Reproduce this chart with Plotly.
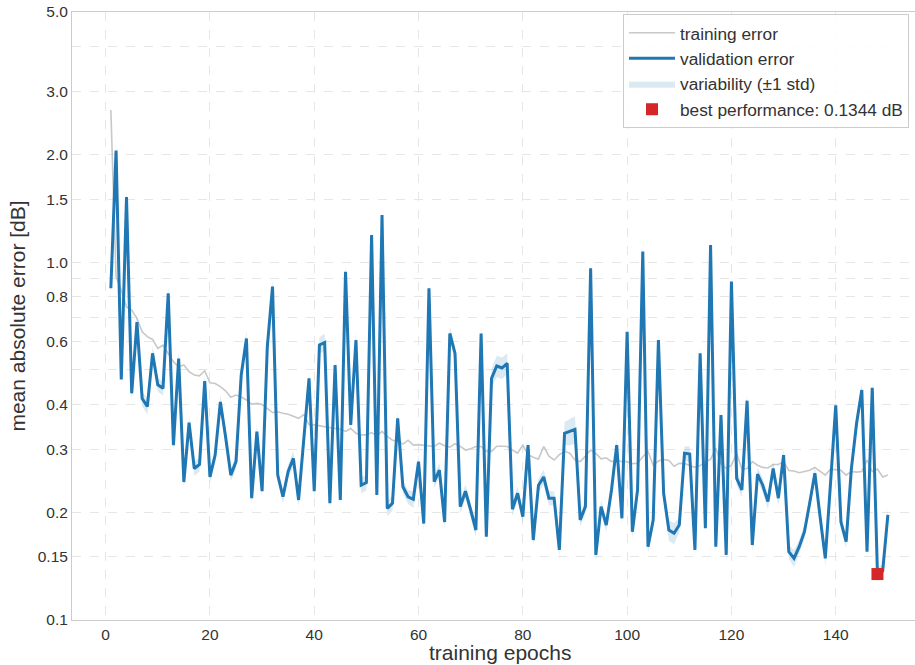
import math
import plotly.graph_objects as go

epochs = list(range(1, 151))

validation_error = [
    0.845, 2.05, 0.47, 1.52, 0.43, 0.68, 0.416, 0.395, 0.556, 0.454,
    0.444, 0.818, 0.308, 0.538, 0.243, 0.356, 0.265, 0.272, 0.465, 0.251,
    0.289, 0.407, 0.325, 0.254, 0.277, 0.484, 0.612, 0.219, 0.336, 0.229,
    0.58, 0.854, 0.254, 0.221, 0.26, 0.283, 0.2165, 0.312, 0.4735, 0.229,
    0.587, 0.596, 0.212, 0.516, 0.2165, 0.94, 0.351, 0.606, 0.238, 0.242,
    1.19, 0.2235, 1.354, 0.205, 0.212, 0.366, 0.2357, 0.221, 0.2175, 0.277,
    0.186, 0.845, 0.2434, 0.2624, 0.1878, 0.632, 0.556, 0.2074, 0.229, 0.203,
    0.1784, 0.632, 0.171, 0.4735, 0.5126, 0.506, 0.5216, 0.2039, 0.226, 0.1944,
    0.308, 0.1673, 0.238, 0.251, 0.219, 0.219, 0.157, 0.3326, 0.336, 0.341,
    0.1903, 0.2074, 0.961, 0.152, 0.2074, 0.1842, 0.2308, 0.308, 0.1924, 0.639,
    0.1765, 0.2308, 1.07, 0.1603, 0.1903, 0.606, 0.226, 0.1784, 0.1747, 0.1842,
    0.2923, 0.291, 0.157, 0.556, 0.1804, 1.116, 0.1603, 0.374, 0.152, 0.882,
    0.2488, 0.2308, 0.41, 0.162, 0.2558, 0.238, 0.2142, 0.265, 0.219, 0.289,
    0.1552, 0.1487, 0.1603, 0.1765, 0.212, 0.257, 0.1944, 0.1487, 0.241, 0.398,
    0.1878, 0.1655, 0.265, 0.3546, 0.439, 0.1552, 0.4457, 0.1344, 0.137, 0.1966,
]

validation_std = [
    0.05, 0.12, 0.025, 0.08, 0.02, 0.03, 0.02, 0.02, 0.025, 0.02,
    0.02, 0.04, 0.012, 0.025, 0.01, 0.015, 0.012, 0.012, 0.02, 0.01,
    0.012, 0.018, 0.014, 0.01, 0.012, 0.02, 0.03, 0.009, 0.015, 0.01,
    0.025, 0.04, 0.01, 0.009, 0.011, 0.014, 0.009, 0.013, 0.02, 0.01,
    0.03, 0.035, 0.009, 0.025, 0.009, 0.045, 0.015, 0.03, 0.012, 0.012,
    0.06, 0.01, 0.07, 0.01, 0.01, 0.016, 0.01, 0.01, 0.012, 0.012,
    0.008, 0.04, 0.01, 0.012, 0.008, 0.03, 0.025, 0.009, 0.01, 0.009,
    0.008, 0.03, 0.008, 0.03, 0.035, 0.035, 0.035, 0.009, 0.01, 0.008,
    0.013, 0.007, 0.01, 0.012, 0.01, 0.01, 0.007, 0.025, 0.028, 0.03,
    0.008, 0.009, 0.045, 0.007, 0.009, 0.008, 0.01, 0.013, 0.008, 0.03,
    0.008, 0.01, 0.05, 0.007, 0.008, 0.03, 0.01, 0.012, 0.012, 0.008,
    0.013, 0.015, 0.007, 0.025, 0.008, 0.05, 0.007, 0.016, 0.007, 0.04,
    0.011, 0.011, 0.018, 0.007, 0.011, 0.011, 0.01, 0.012, 0.01, 0.013,
    0.007, 0.008, 0.007, 0.008, 0.009, 0.011, 0.008, 0.007, 0.01, 0.017,
    0.008, 0.007, 0.011, 0.015, 0.019, 0.007, 0.019, 0.006, 0.006, 0.009,
]

training_error = [
    2.66, 0.91, 0.835, 0.75, 0.735, 0.697, 0.639, 0.619, 0.608, 0.574,
    0.586, 0.556, 0.527, 0.51, 0.516, 0.494, 0.484, 0.481, 0.497, 0.46,
    0.458, 0.449, 0.437, 0.419, 0.425, 0.42, 0.412, 0.401, 0.403, 0.40,
    0.39, 0.38, 0.382, 0.378, 0.376, 0.371, 0.366, 0.375, 0.352, 0.351,
    0.349, 0.347, 0.346, 0.343, 0.341, 0.3365, 0.343, 0.3325, 0.329, 0.329,
    0.334, 0.327, 0.3365, 0.326, 0.318, 0.316, 0.31, 0.318, 0.308, 0.309,
    0.308, 0.308, 0.3055, 0.312, 0.307, 0.304, 0.311, 0.3055, 0.2985, 0.301,
    0.3055, 0.3055, 0.296, 0.296, 0.306, 0.306, 0.3055, 0.2985, 0.2924, 0.308,
    0.2896, 0.285, 0.2815, 0.3055, 0.287, 0.28, 0.2896, 0.296, 0.2924, 0.28,
    0.277, 0.287, 0.2985, 0.292, 0.282, 0.284, 0.277, 0.279, 0.277, 0.277,
    0.2735, 0.274, 0.286, 0.296, 0.2707, 0.278, 0.281, 0.279, 0.269, 0.274,
    0.2735, 0.2707, 0.267, 0.27, 0.277, 0.281, 0.302, 0.2735, 0.265, 0.2707,
    0.2923, 0.264, 0.265, 0.277, 0.2707, 0.267, 0.266, 0.272, 0.272, 0.277,
    0.2617, 0.2607, 0.258, 0.26, 0.262, 0.267, 0.26, 0.254, 0.264, 0.263,
    0.262, 0.254, 0.26, 0.259, 0.26, 0.28, 0.26, 0.264, 0.251, 0.254,
]

best_epoch = 148
best_value = 0.1344

y_tick_vals = [0.1, 0.15, 0.2, 0.3, 0.4, 0.6, 0.8, 1.0, 1.5, 2.0, 3.0, 5.0]
y_tick_text = ["0.1", "0.15", "0.2", "0.3", "0.4", "0.6", "0.8", "1.0", "1.5", "2.0", "3.0", "5.0"]
y_minor_vals = [0.5, 0.7, 0.9, 4.0]
x_tick_vals = [0, 20, 40, 60, 80, 100, 120, 140]

upper = [v + s for v, s in zip(validation_error, validation_std)]
lower = [v - s for v, s in zip(validation_error, validation_std)]

FONT = "Liberation Sans, Arial, sans-serif"
TXT = "#333333"
GRID = "#e6e6e6"

fig = go.Figure()

fig.add_trace(go.Scatter(
    x=epochs, y=training_error, mode="lines", name="training error",
    line=dict(color="#c8c8c8", width=1.6), legendrank=1,
))
fig.add_trace(go.Scatter(
    x=epochs + epochs[::-1], y=upper + lower[::-1], mode="lines",
    fill="toself", fillcolor="rgba(31,119,180,0.16)",
    line=dict(width=0, color="rgba(31,119,180,0.16)"),
    name="variability (±1 std)", legendrank=3,
))
fig.add_trace(go.Scatter(
    x=epochs, y=validation_error, mode="lines", name="validation error",
    line=dict(color="#1f77b4", width=3), legendrank=2,
))
fig.add_trace(go.Scatter(
    x=[best_epoch], y=[best_value], mode="markers",
    name=f"best performance: {best_value:.4f} dB",
    marker=dict(symbol="square", size=12, color="#d62728"), legendrank=4,
))

fig.update_layout(
    width=915, height=665,
    margin=dict(l=72, r=0, t=12, b=45),
    paper_bgcolor="white", plot_bgcolor="white",
    font=dict(family=FONT, size=15.5, color=TXT),
    showlegend=True,
    legend=dict(
        x=0.6536, y=0.9967, xanchor="left", yanchor="top",
        bgcolor="rgba(255,255,255,0.85)", bordercolor="#cccccc", borderwidth=1,
        font=dict(family=FONT, size=17.3, color=TXT),
        tracegroupgap=0, itemwidth=46,
    ),
    xaxis=dict(
        range=[-6.45, 155.2], tickvals=x_tick_vals,
        showgrid=True, gridcolor=GRID, griddash="dash", gridwidth=1,
        showline=True, linecolor="#cccccc", linewidth=1, mirror=True,
        zeroline=False, ticks="",
        tickfont=dict(size=15.5, color=TXT),
    ),
    yaxis=dict(
        type="log", range=[-1, math.log10(5)],
        tickvals=y_tick_vals, ticktext=y_tick_text,
        showgrid=True, gridcolor=GRID, griddash="dash", gridwidth=1,
        minor=dict(tickvals=y_minor_vals, showgrid=True, gridcolor=GRID, griddash="dash", ticks=""),
        showline=True, linecolor="#cccccc", linewidth=1, mirror=True,
        zeroline=False, ticks="",
        tickfont=dict(size=15.5, color=TXT),
        title=dict(text="mean absolute error [dB]", font=dict(size=21, color=TXT), standoff=6),
    ),
    annotations=[dict(
        text="training epochs", xref="paper", yref="paper",
        x=(500 - 72) / 843, y=0, yshift=-32, xanchor="center", yanchor="middle",
        showarrow=False, font=dict(family=FONT, size=21, color=TXT),
    )],
)

fig.write_html("out.html")
